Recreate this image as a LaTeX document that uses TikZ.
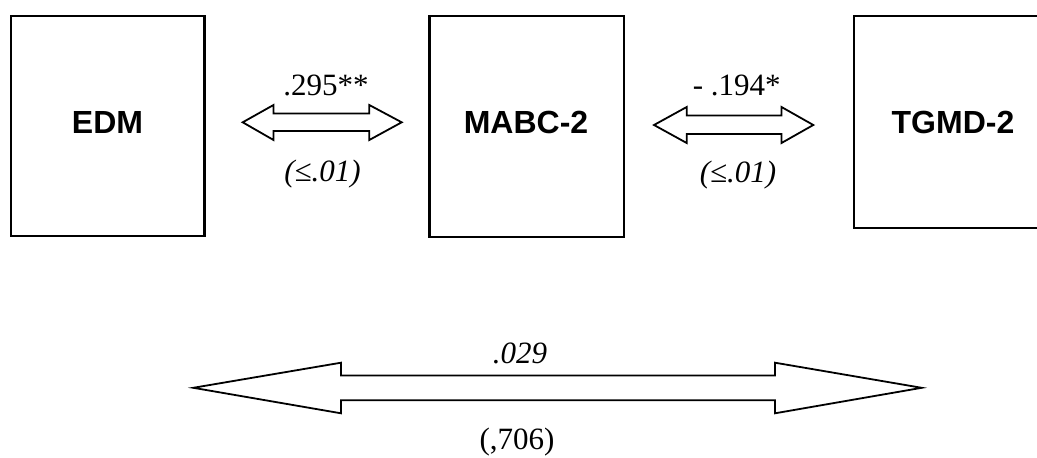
\documentclass[tikz,border=0pt]{standalone}
\usepackage{fontspec}
\setmainfont{Liberation Serif}
\newfontfamily\boxfont{Liberation Sans}
\begin{document}
\begin{tikzpicture}[x=1pt,y=-1pt,
  varbox/.style={draw=black,line width=2.6pt},
  boxlabel/.style={font=\boxfont\bfseries\fontsize{32}{36}\selectfont,inner sep=0pt},
  numlabel/.style={font=\fontsize{31}{35}\selectfont,inner sep=0pt,anchor=base},
  blockarrow/.style={draw=black,line width=1.8pt,fill=white,line join=miter}]
\useasboundingbox (0,0) rectangle (1037,458);
\clip (0,0) rectangle (1037,458);
% boxes
\draw[varbox] (11,16) rectangle (204.5,236);
\draw[varbox] (429.5,16) rectangle (624,237);
\draw[varbox] (854,16) rectangle (1060,228);
\node[boxlabel] (edm) at (107.5,122) {EDM};
\node[boxlabel] (mabc) at (526,122) {MABC-2};
\node[boxlabel] (tgmd) at (953,122) {TGMD-2};
% arrow 1
\draw[blockarrow] (242.7,122.3) -- (273.5,105) -- (273.5,113.5) -- (369.3,113.5) -- (369.3,105)
  -- (401.7,122.3) -- (369.3,140) -- (369.3,131) -- (273.5,131) -- (273.5,140) -- cycle;
% arrow 2
\draw[blockarrow] (654,125) -- (686.7,107) -- (686.7,115.5) -- (781.5,115.5) -- (781.5,107)
  -- (813.3,125) -- (781.5,143) -- (781.5,134) -- (686.7,134) -- (686.7,143) -- cycle;
% arrow 3
\draw[blockarrow] (193.3,387.8) -- (341,362.7) -- (341,375.5) -- (775,375.5) -- (775,362.7)
  -- (921.7,387.8) -- (775,413.3) -- (775,400.3) -- (341,400.3) -- (341,413.3) -- cycle;
% labels
\node[numlabel] (l1) at (326,95) {.295**};
\node[numlabel] (p1) at (322.5,181) {\itshape (≤.01)};
\node[numlabel] (l2) at (736.7,95) {- .194*};
\node[numlabel] (p2) at (738,182.5) {\itshape (≤.01)};
\node[numlabel] (l3) at (520,363) {\itshape .029};
\node[numlabel] (p3) at (517,449) {(,706)};
\end{tikzpicture}
\end{document}
